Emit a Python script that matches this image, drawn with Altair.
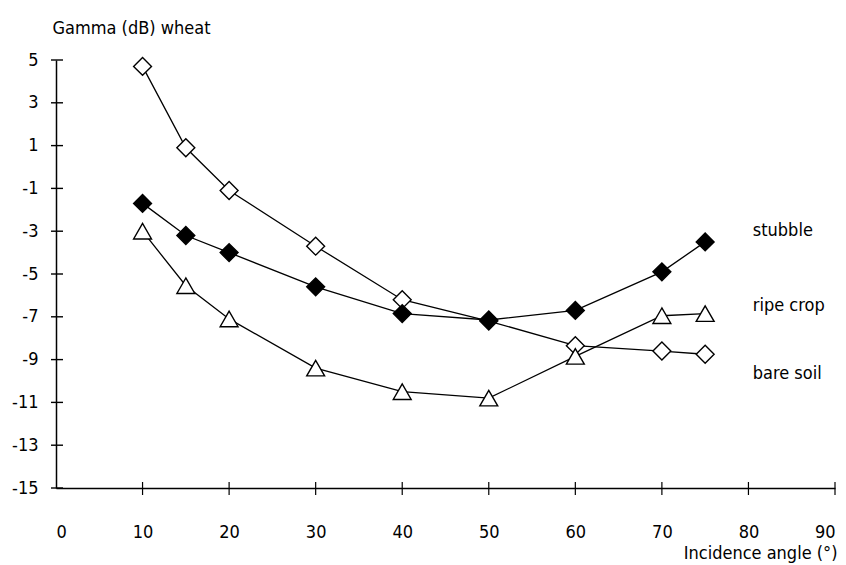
import altair as alt
import pandas as pd

# Incidence angles (degrees) and backscatter gamma (dB) for each surface
angles = [10, 15, 20, 30, 40, 50, 60, 70, 75]
bare_soil = [4.7, 0.9, -1.1, -3.7, -6.2, -7.2, -8.35, -8.6, -8.75]
stubble = [-1.7, -3.2, -4.0, -5.6, -6.85, -7.15, -6.7, -4.9, -3.5]
ripe_crop = [-3.0, -5.55, -7.1, -9.4, -10.5, -10.8, -8.85, -6.95, -6.85]

series_names = ["bare soil", "stubble", "ripe crop"]
series_values = [bare_soil, stubble, ripe_crop]

# Inline series labels at the right end of the curves
label_names = ["stubble", "ripe crop", "bare soil"]
label_angle = [80.5, 80.5, 80.5]
label_gamma = [-3.0, -6.5, -9.65]

y_ticks = [-15, -13, -11, -9, -7, -5, -3, -1, 1, 3, 5]
x_ticks = [0, 10, 20, 30, 40, 50, 60, 70, 80, 90]

FONT = "DejaVu Sans Condensed, Liberation Sans Narrow, Liberation Sans, sans-serif"
FS = 18
W, H = 779, 428

rows = []
for name, vals in zip(series_names, series_values):
    for a, g in zip(angles, vals):
        rows.append({"surface": name, "angle": a, "gamma": g})
df = pd.DataFrame(rows)

labels_df = pd.DataFrame({"label": label_names, "angle": label_angle, "gamma": label_gamma})
yt_df = pd.DataFrame({"gamma": y_ticks})
xt_df = pd.DataFrame({"angle": x_ticks[1:]})

xscale = alt.Scale(domain=[0, 90], nice=False, zero=False)
yscale = alt.Scale(domain=[-15, 5], nice=False, zero=False)

x_enc = alt.X(
    "angle:Q",
    scale=xscale,
    axis=alt.Axis(
        values=x_ticks,
        ticks=False,
        grid=False,
        domainColor="black",
        domainWidth=1.5,
        labelPadding=35,
        labelFont=FONT,
        labelFontSize=FS,
        labelColor="black",
        title="Incidence angle (°)",
        titleFont=FONT,
        titleFontSize=FS,
        titleFontWeight="normal",
        titleColor="black",
        titleAnchor="end",
        titleAlign="right",
        titleX=W + 2,
        titleY=70,
        titleBaseline="alphabetic",
    ),
)
y_enc = alt.Y(
    "gamma:Q",
    scale=yscale,
    axis=alt.Axis(
        values=y_ticks,
        ticks=False,
        grid=False,
        domainColor="black",
        domainWidth=1.5,
        labelPadding=18,
        labelExpr="'' + datum.value",
        labelFont=FONT,
        labelFontSize=FS,
        labelColor="black",
        title="Gamma (dB) wheat",
        titleFont=FONT,
        titleFontSize=FS,
        titleFontWeight="normal",
        titleColor="black",
        titleAngle=0,
        titleAlign="left",
        titleBaseline="alphabetic",
        titleX=-4,
        titleY=-27,
    ),
)

lines = alt.Chart(df).mark_line(color="black", strokeWidth=1.3).encode(
    x=x_enc, y=y_enc, detail="surface:N"
)

shape_scale = alt.Scale(
    domain=series_names, range=["diamond", "diamond", "triangle-up"]
)
fill_scale = alt.Scale(domain=series_names, range=["white", "black", "white"])

points = alt.Chart(df).mark_point(
    filled=True, stroke="black", strokeWidth=1.4, size=320, opacity=1
).encode(
    x="angle:Q",
    y="gamma:Q",
    shape=alt.Shape("surface:N", scale=shape_scale, legend=None),
    fill=alt.Fill("surface:N", scale=fill_scale, legend=None),
)

labels = alt.Chart(labels_df).mark_text(
    align="left", baseline="middle", font=FONT, fontSize=FS, color="black"
).encode(x="angle:Q", y="gamma:Q", text="label:N")

y_tick_marks = alt.Chart(yt_df).mark_rule(color="black", strokeWidth=1.4).encode(
    y="gamma:Q", x=alt.value(-5), x2=alt.value(7)
)
x_tick_marks = alt.Chart(xt_df).mark_rule(color="black", strokeWidth=1.2).encode(
    x="angle:Q", y=alt.value(H - 6), y2=alt.value(H + 7)
)

chart = (
    alt.layer(lines, y_tick_marks, x_tick_marks, points, labels)
    .properties(
        width=W,
        height=H,
        autosize=alt.AutoSizeParams(type="none"),
        padding={"left": 56, "top": 60, "right": 11, "bottom": 77},
        background="white",
    )
    .configure_view(stroke=None)
)

chart.save("out.html", embed_options={"renderer": "svg", "actions": False})
